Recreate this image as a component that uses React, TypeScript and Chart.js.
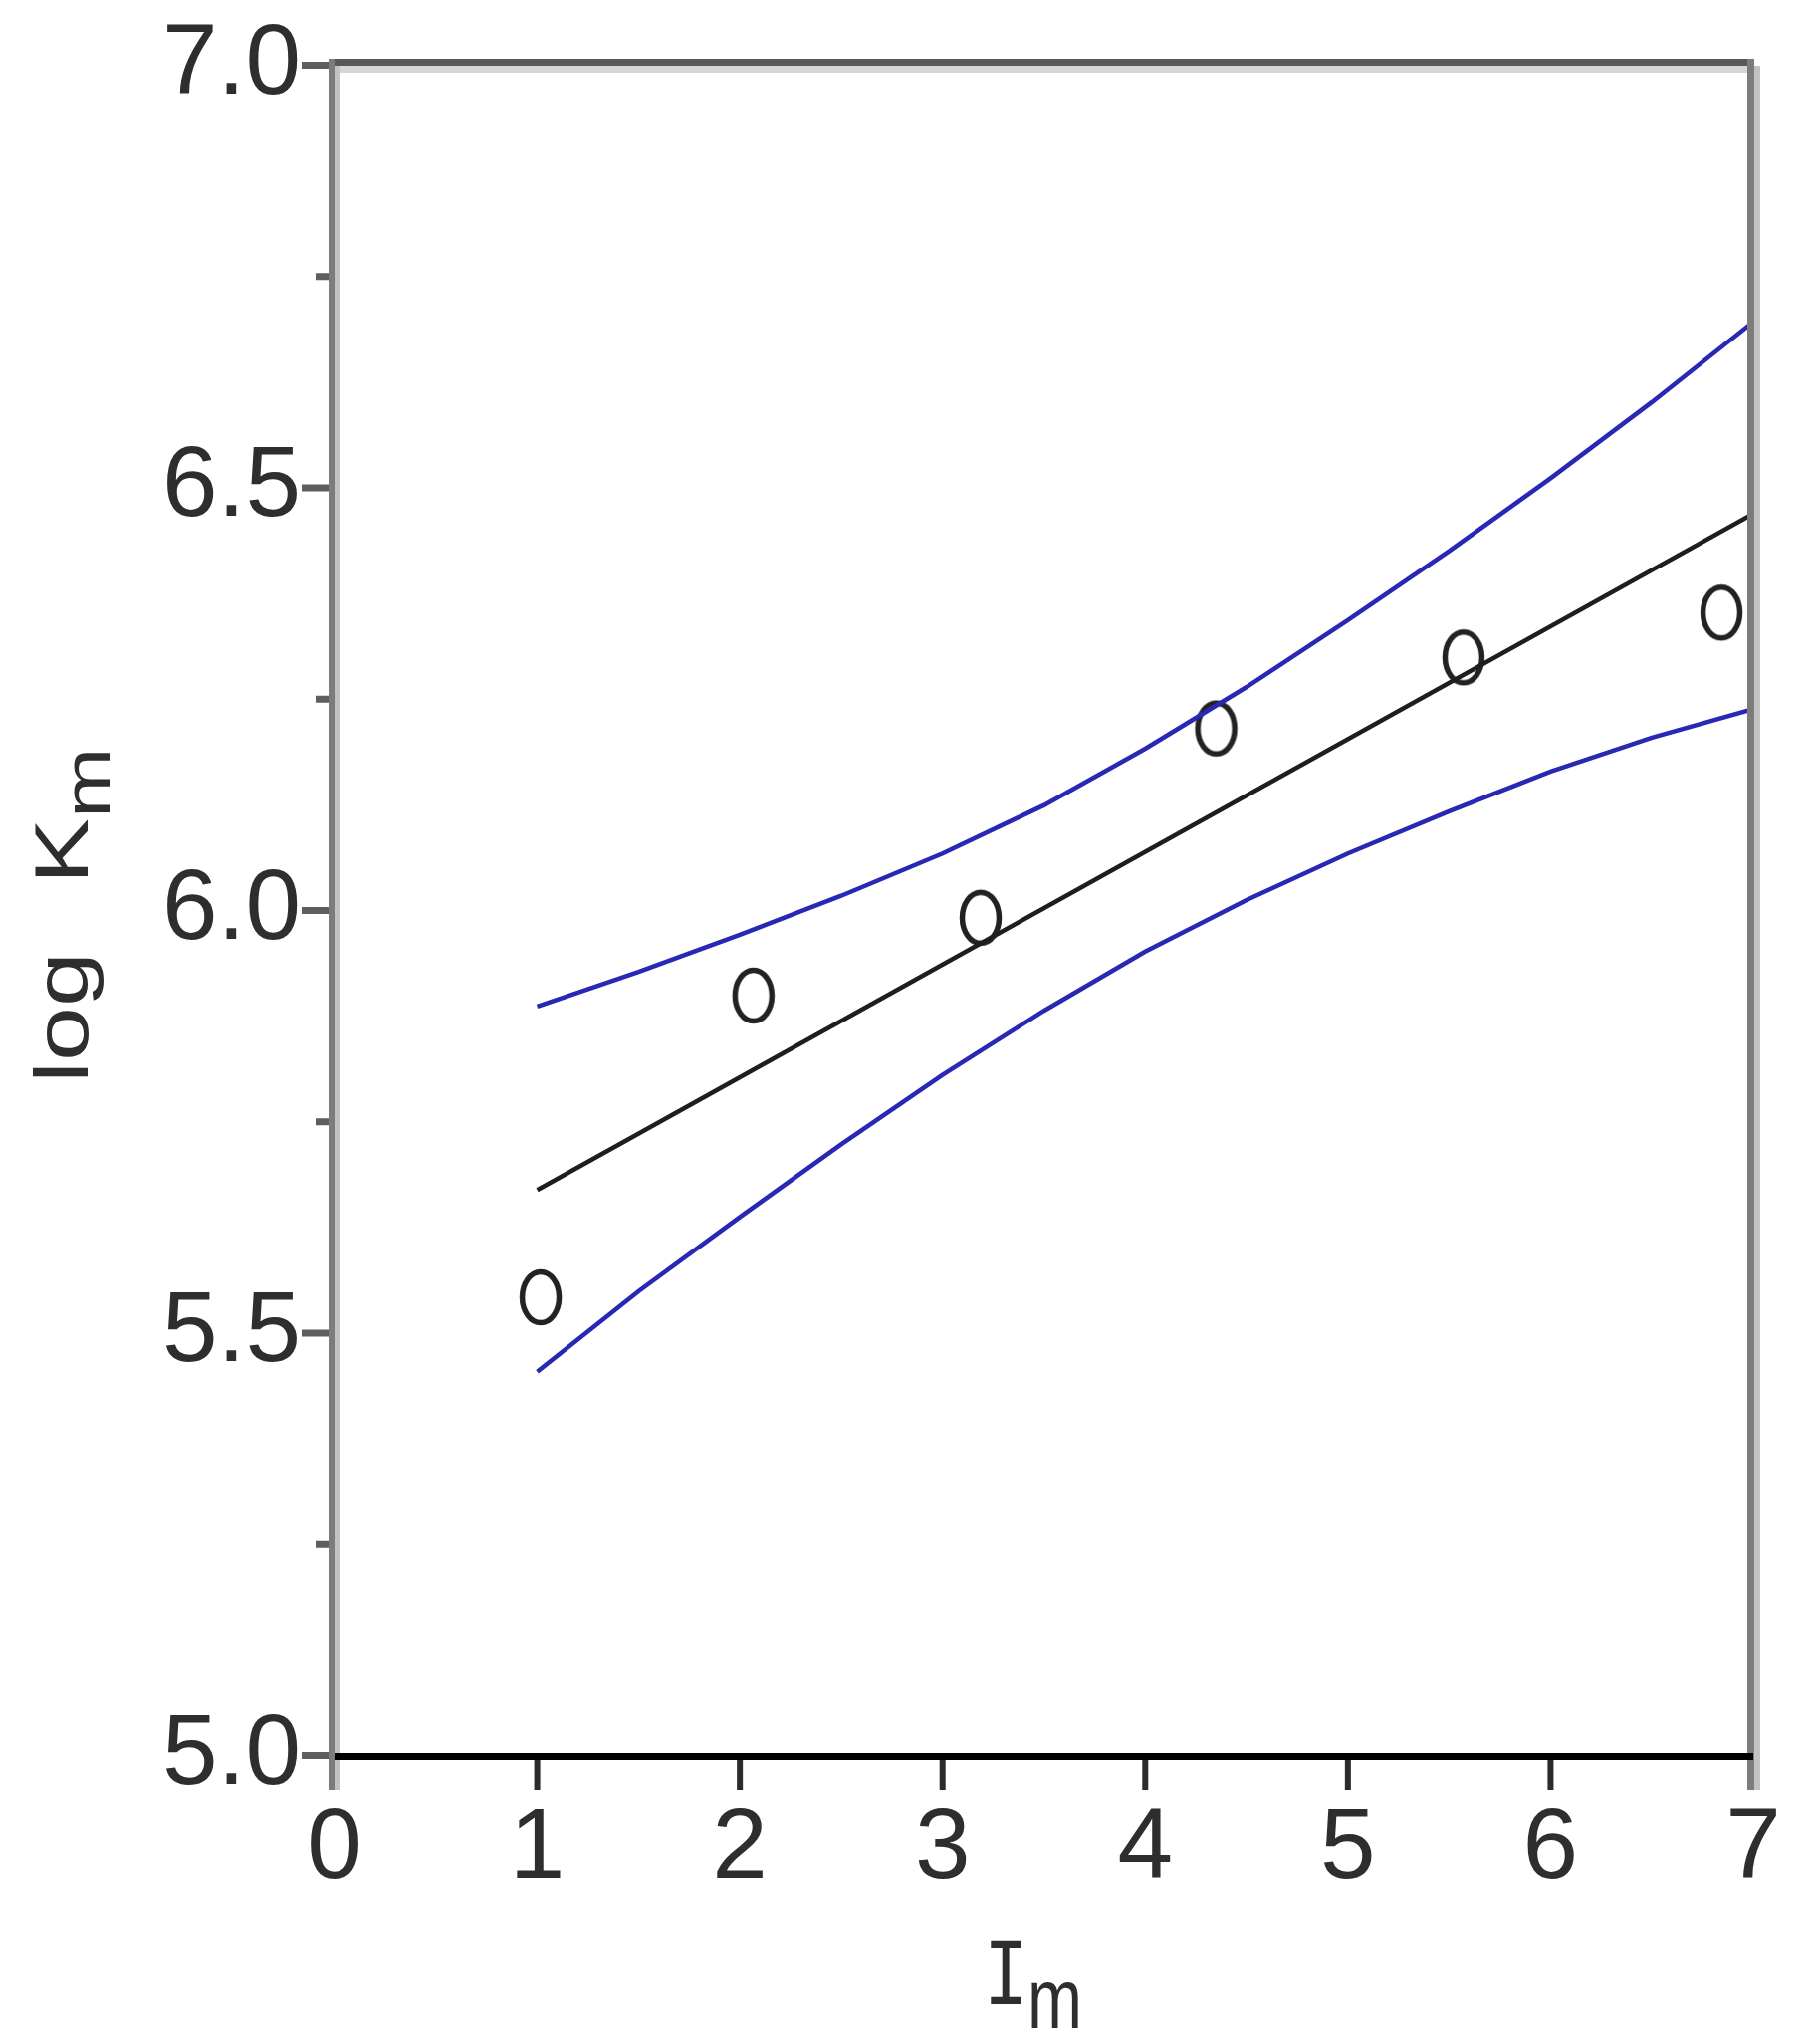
import React, { useEffect, useRef } from 'react';
import { Chart, registerables } from 'chart.js';

Chart.register(...registerables);

// Observed data points (I_m, log K_m)
const pointX = [1.017, 2.067, 3.188, 4.35, 5.57, 6.843];
const pointY = [5.543, 5.9, 5.992, 6.216, 6.3, 6.353];

// Regression line
const fitX = [1, 7];
const fitY = [5.67, 6.47];

// Confidence band
const bandX = [1, 1.5, 2, 2.5, 3, 3.5, 4, 4.5, 5, 5.5, 6, 6.5, 7];
const upperY = [5.887, 5.928, 5.972, 6.018, 6.068, 6.125, 6.192, 6.265, 6.344, 6.426, 6.512, 6.602, 6.697];
const lowerY = [5.455, 5.55, 5.638, 5.724, 5.806, 5.882, 5.952, 6.013, 6.068, 6.118, 6.165, 6.205, 6.239];

// Axes
const xTicks = [0, 1, 2, 3, 4, 5, 6, 7];
const yMajorTicks = [5.0, 5.5, 6.0, 6.5, 7.0];
const yMinorTicks = [5.25, 5.75, 6.25, 6.75];
const xTitleMain = 'I';
const xTitleSub = 'm';
const yTitleMain = 'log';
const yTitleK = 'K';
const yTitleSub = 'm';

const TEXT = '#2e2e2e';
const FONT_FAMILY = '"Liberation Sans Narrow", "Liberation Sans", sans-serif';
const STRETCH = 1.3;

const framePlugin = {
  id: 'frameAndTitles',
  afterDraw(chart: any) {
    const { ctx, chartArea, scales } = chart;
    const { left, right, top, bottom } = chartArea;
    const xs = scales.x;
    const ys = scales.y;
    ctx.save();
    // y ticks
    ctx.fillStyle = '#5e5e5e';
    yMajorTicks.forEach((v) => {
      const py = ys.getPixelForValue(v);
      ctx.fillRect(left - 33, py - 4, 28, 7);
    });
    yMinorTicks.forEach((v) => {
      const py = ys.getPixelForValue(v);
      ctx.fillRect(left - 19, py - 4, 14, 7);
    });
    // x ticks
    ctx.fillStyle = '#2b2b2b';
    xTicks.forEach((v) => {
      const px = xs.getPixelForValue(v);
      ctx.fillRect(px - 3, bottom + 3, 6, 31);
    });
    // top line
    ctx.fillStyle = '#585858';
    ctx.fillRect(left - 6, top - 7, right - left + 6, 7);
    ctx.fillStyle = '#d6d6d6';
    ctx.fillRect(left, top, right - left, 7);
    // left line
    ctx.fillStyle = '#7c7c7c';
    ctx.fillRect(left - 6, top - 7, 6, bottom - top + 41);
    ctx.fillStyle = '#c2c2c2';
    ctx.fillRect(left, top, 6, bottom - top + 34);
    // right line
    ctx.fillStyle = '#7c7c7c';
    ctx.fillRect(right - 6, top - 7, 7, bottom - top + 41);
    ctx.fillStyle = '#c2c2c2';
    ctx.fillRect(right + 1, top, 6, bottom - top + 34);
    // bottom line
    ctx.fillStyle = '#000000';
    ctx.fillRect(left, bottom - 3, right - left, 7);

    // x title  I_m
    ctx.fillStyle = TEXT;
    ctx.textBaseline = 'alphabetic';
    ctx.textAlign = 'left';
    ctx.save();
    ctx.translate(988, 2013);
    ctx.scale(1, STRETCH);
    ctx.font = '74px "Liberation Mono", monospace';
    ctx.fillText(xTitleMain, 0, 0);
    ctx.restore();
    ctx.save();
    ctx.translate(1032, 2037);
    ctx.scale(1, STRETCH);
    ctx.font = '66px "Liberation Sans", sans-serif';
    ctx.fillText(xTitleSub, 0, 0);
    ctx.restore();

    // y title  log K_m (rotated)
    const drawRot = (text: string, baseX: number, startY: number, size: number) => {
      ctx.save();
      ctx.translate(baseX, startY);
      ctx.rotate(-Math.PI / 2);
      ctx.scale(STRETCH, 1);
      ctx.font = size + 'px "Liberation Sans", sans-serif';
      ctx.fillText(text, 0, 0);
      ctx.restore();
    };
    drawRot(yTitleMain, 88, 1088, 76);
    drawRot(yTitleK, 88, 888, 76);
    drawRot(yTitleSub, 110, 822, 66);
    ctx.restore();
  },
};

function makeEllipse(): HTMLCanvasElement {
  const c = document.createElement('canvas');
  c.width = 50;
  c.height = 64;
  const g = c.getContext('2d')!;
  g.strokeStyle = '#222222';
  g.lineWidth = 5.5;
  g.beginPath();
  g.ellipse(25, 32, 18.5, 25.5, 0, 0, Math.PI * 2);
  g.stroke();
  return c;
}

export default function App() {
  const ref = useRef<HTMLCanvasElement | null>(null);
  useEffect(() => {
    if (!ref.current) return;
    const marker = makeEllipse();
    const chart = new Chart(ref.current, {
      type: 'scatter',
      data: {
        datasets: [
          {
            label: 'upper',
            data: bandX.map((x, i) => ({ x, y: upperY[i] })),
            showLine: true,
            borderColor: '#2828b4',
            borderWidth: 4.5,
            pointRadius: 0,
            tension: 0,
          },
          {
            label: 'lower',
            data: bandX.map((x, i) => ({ x, y: lowerY[i] })),
            showLine: true,
            borderColor: '#2828b4',
            borderWidth: 4.5,
            pointRadius: 0,
            tension: 0,
          },
          {
            label: 'fit',
            data: fitX.map((x, i) => ({ x, y: fitY[i] })),
            showLine: true,
            borderColor: '#1e1e1e',
            borderWidth: 4.5,
            pointRadius: 0,
          },
          {
            label: 'data',
            data: pointX.map((x, i) => ({ x, y: pointY[i] })),
            showLine: false,
            pointStyle: marker as any,
            pointRadius: 25,
          },
        ],
      },
      options: {
        responsive: false,
        animation: false,
        devicePixelRatio: 1,
        layout: { padding: { top: 66, right: 63, left: 0, bottom: 0 } },
        plugins: { legend: { display: false }, tooltip: { enabled: false } },
        scales: {
          x: {
            type: 'linear',
            min: 0,
            max: 7,
            grid: { display: false },
            border: { display: false },
            afterBuildTicks: (s: any) => {
              s.ticks = xTicks.map((v) => ({ value: v }));
            },
            afterFit: (s: any) => {
              s.height = 289;
              s.paddingLeft = 0;
              s.paddingRight = 0;
            },
            ticks: {
              padding: 26,
              color: TEXT,
              font: { size: 100, family: FONT_FAMILY },
              callback: (v: any) => String(v),
            },
          },
          y: {
            type: 'linear',
            min: 5,
            max: 7,
            grid: { display: false },
            border: { display: false },
            afterBuildTicks: (s: any) => {
              s.ticks = yMajorTicks.map((v) => ({ value: v }));
            },
            afterFit: (s: any) => {
              s.width = 336;
              s.paddingTop = 0;
              s.paddingBottom = 0;
            },
            ticks: {
              padding: 26,
              color: TEXT,
              font: { size: 100, family: FONT_FAMILY, lineHeight: 1 },
              callback: (v: any) => Number(v).toFixed(1),
            },
          },
        },
      },
      plugins: [framePlugin],
    });
    return () => chart.destroy();
  }, []);
  return (
    <div style={{ position: 'absolute', left: 0, top: 0, width: 1824, height: 2053, background: '#fff' }}>
      <canvas ref={ref} width={1824} height={2053} style={{ display: 'block' }} />
    </div>
  );
}
